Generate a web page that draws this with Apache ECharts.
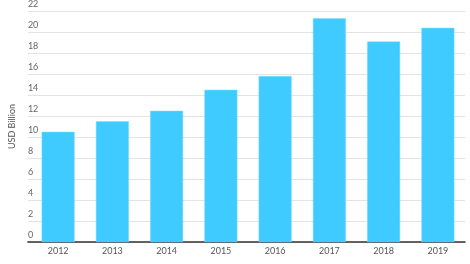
<!DOCTYPE html>
<html><head><meta charset="utf-8">
<script src="https://cdn.jsdelivr.net/npm/echarts@6/dist/echarts.min.js"></script>
<style>html,body{margin:0;padding:0;background:#fff}#c{width:470px;height:264px}</style>
</head><body><div id="c"></div>
<script>
const years = ['2012','2013','2014','2015','2016','2017','2018','2019'];
const values = [10.5, 11.5, 12.5, 14.5, 15.8, 21.3, 19.1, 20.4];
const yTicks = [0, 22, 2];
const yName = 'USD Billion';

const chart = echarts.init(document.getElementById('c'));
chart.setOption({
  animation: false,
  textStyle: {fontFamily: 'Lato'},
  grid: [
    {left: 20, right: 5, top: 11, bottom: 22},
    {left: 31, right: 5, top: 11, bottom: 22}
  ],
  xAxis: [
    {gridIndex: 0, type: 'category', data: years, axisLabel: {show: false}, axisTick: {show: false},
     axisLine: {lineStyle: {color: '#333', width: 1.5}}},
    {gridIndex: 1, type: 'category', data: years, axisTick: {show: false}, axisLine: {show: false},
     axisLabel: {color: '#555', fontSize: 9, margin: 5, fontFamily: 'Lato'}}
  ],
  yAxis: [
    {gridIndex: 0, type: 'value', min: yTicks[0], max: yTicks[1], interval: yTicks[2],
     name: yName, nameLocation: 'middle', nameGap: 4, nameRotate: 90,
     nameTextStyle: {color: '#555', fontSize: 9, fontFamily: 'Lato'},
     axisLine: {show: false}, axisTick: {show: false},
     axisLabel: {inside: true, margin: 0, verticalAlign: 'bottom', padding: [0,0,2,0], color: '#666', fontSize: 9, fontFamily: 'Lato'},
     splitLine: {lineStyle: {color: '#e3e3e3', width: 1}}},
    {gridIndex: 1, type: 'value', min: yTicks[0], max: yTicks[1], interval: yTicks[2], show: false, splitLine: {show: false}}
  ],
  series: [{
    type: 'bar', xAxisIndex: 1, yAxisIndex: 1, data: values, barWidth: 33,
    itemStyle: {color: '#3fcbff', borderColor: '#7fdcff', borderWidth: 0.5}
  }]
});
</script></body></html>
